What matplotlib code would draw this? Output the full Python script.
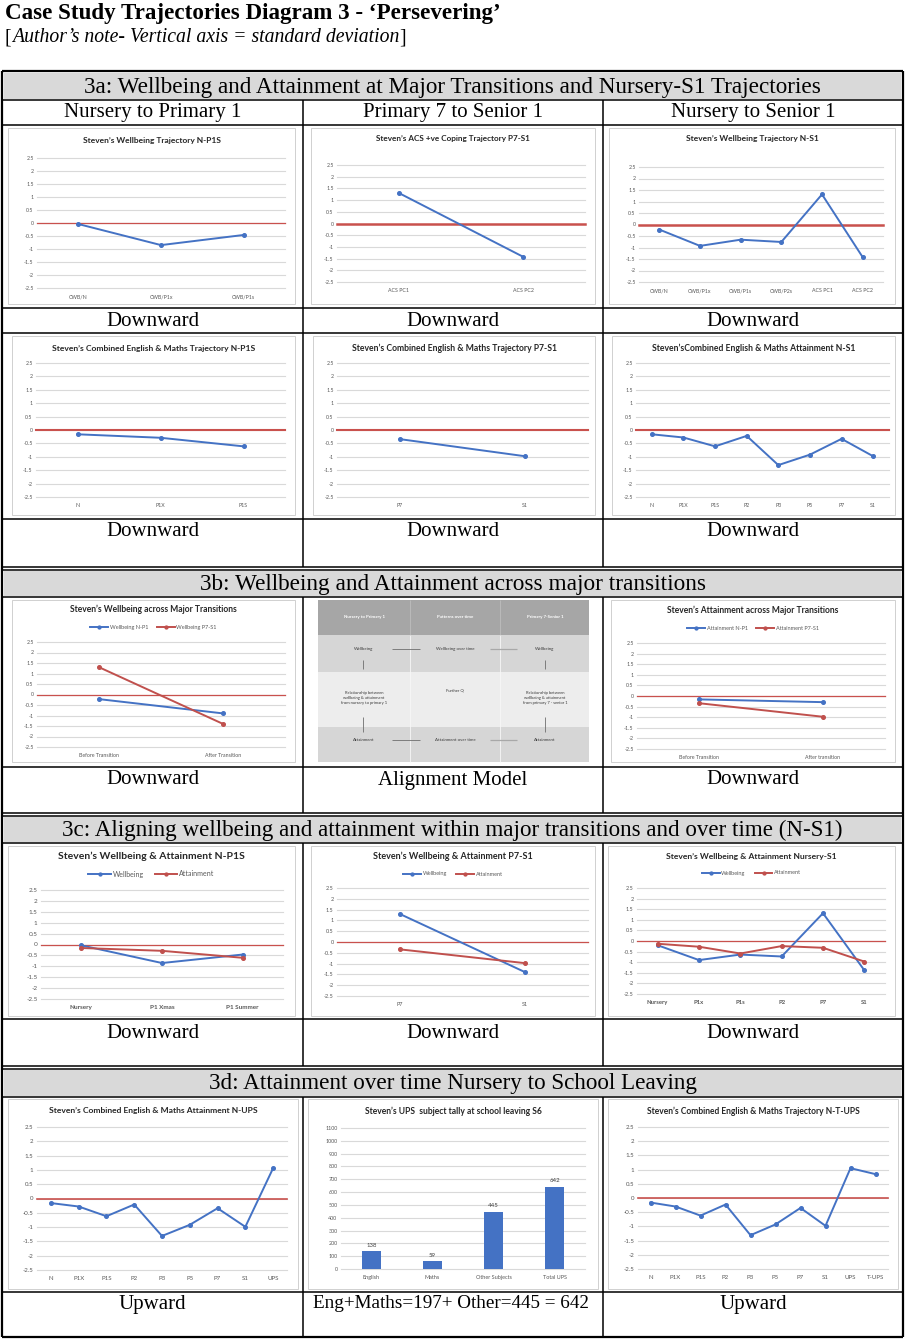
import matplotlib
matplotlib.use("Agg")
import matplotlib.pyplot as plt
from matplotlib.patches import Rectangle
from matplotlib.lines import Line2D

# ---------------- data ----------------
sd_ticks = [2.5, 2, 1.5, 1, 0.5, 0, -0.5, -1, -1.5, -2, -2.5]
sd_labels = ["2.5", "2", "1.5", "1", "0.5", "0", "-0.5", "-1", "-1.5", "-2", "-2.5"]

# 3a row 1
wb_np1s_cats = ["CWB/N", "CWB/P1x", "CWB/P1s"]
wb_np1s = [-0.04, -0.85, -0.46]
acs_cats = ["ACS PC1", "ACS PC2"]
acs_vals = [1.3, -1.42]
wb_ns1_cats = ["CWB/N", "CWB/P1x", "CWB/P1s", "CWB/P2s", "ACS PC1", "ACS PC2"]
wb_ns1 = [-0.22, -0.93, -0.66, -0.76, 1.31, -1.42]
# 3a row 2
att_np1s_cats = ["N", "P1X", "P1S"]
att_np1s = [-0.16, -0.29, -0.61]
att_p7s1_cats = ["P7", "S1"]
att_p7s1 = [-0.34, -0.98]
att_ns1_cats = ["N", "P1X", "P1S", "P2", "P3", "P5", "P7", "S1"]
att_ns1 = [-0.16, -0.28, -0.61, -0.22, -1.31, -0.92, -0.33, -0.98]
# 3b
trans_cats = ["Before Transition", "After Transition"]
trans_cats_b = ["Before Transition", "After transition"]
wb_trans_np1 = [-0.22, -0.9]
wb_trans_p7s1 = [1.3, -1.4]
att_trans_np1 = [-0.16, -0.29]
att_trans_p7s1 = [-0.34, -0.98]
# 3c
c_np1s_cats = ["Nursery", "P1 Xmas", "P1 Summer"]
c_np1s_wb = [-0.04, -0.85, -0.46]
c_np1s_att = [-0.16, -0.29, -0.61]
c_p7s1_cats = ["P7", "S1"]
c_p7s1_wb = [1.3, -1.4]
c_p7s1_att = [-0.34, -0.98]
c_ns1_cats = ["Nursery", "P1x", "P1s", "P2", "P7", "S1"]
c_ns1_wb = [-0.2, -0.9, -0.64, -0.73, 1.31, -1.38]
c_ns1_att = [-0.13, -0.27, -0.59, -0.24, -0.32, -0.97]
# 3d
nups_cats = ["N", "P1X", "P1S", "P2", "P3", "P5", "P7", "S1", "UPS"]
nups = [-0.16, -0.28, -0.62, -0.21, -1.31, -0.92, -0.34, -0.99, 1.06]
ups_cats = ["English", "Maths", "Other Subjects", "Total UPS"]
ups_vals = [138, 59, 445, 642]
ups_ticks = [0, 100, 200, 300, 400, 500, 600, 700, 800, 900, 1000, 1100]
ntups_cats = ["N", "P1X", "P1S", "P2", "P3", "P5", "P7", "S1", "UPS", "T-UPS"]
ntups = [-0.16, -0.3, -0.62, -0.23, -1.31, -0.93, -0.35, -0.98, 1.05, 0.84]

# alignment model text
am_cols = ["Nursery to Primary 1", "Patterns over time", "Primary 7-Senior 1"]
am_top = ["Wellbeing", "Wellbeing over time", "Wellbeing"]
am_mid = ["Relationship between\nwellbeing & attainment\nfrom nursery to primary 1",
          "Further Q",
          "Relationship between\nwellbeing & attainment\nfrom primary 7 - senior 1"]
am_bot = ["Attainment", "Attainment over time", "Attainment"]

# ---------------- setup ----------------
W, H = 905, 1339
fig = plt.figure(figsize=(W / 100, H / 100), dpi=100)
fig.patch.set_facecolor("white")
renderer = fig.canvas.get_renderer()

SERIF = ["Liberation Serif", "DejaVu Serif"]
SANS = ["Lato", "DejaVu Sans"]
BLUE = "#4472C4"
RED = "#C0504D"
ZERO = "#C9514D"
GRID = "#D9D9D9"
TICK = "#595959"
HDR = "#D9D9D9"


def fx(x):
    return x / W


def fy(y):
    return 1 - y / H


def add_rect(x0, y0, x1, y1, fc, ec="none", lw=0, z=0):
    fig.add_artist(Rectangle((fx(x0), fy(y1)), (x1 - x0) / W, (y1 - y0) / H,
                             transform=fig.transFigure, facecolor=fc,
                             edgecolor=ec, linewidth=lw, zorder=z))


def hline(y, x0, x1, lw=1.1, color="black", z=6):
    fig.add_artist(Line2D([fx(x0), fx(x1)], [fy(y), fy(y)], transform=fig.transFigure,
                          color=color, lw=lw, zorder=z, solid_capstyle="butt"))


def vline(x, y0, y1, lw=1.1, color="black", z=6):
    fig.add_artist(Line2D([fx(x), fx(x)], [fy(y0), fy(y1)], transform=fig.transFigure,
                          color=color, lw=lw, zorder=z, solid_capstyle="butt"))


def fit_text(x, y, s, width, **kw):
    t = fig.text(fx(x), fy(y), s, **kw)
    bb = t.get_window_extent(renderer=renderer)
    t.set_fontsize(t.get_fontsize() * width / bb.width)
    return t


def serif_text(x, y, s, size=15, **kw):
    return fig.text(fx(x), fy(y), s, ha="center", va="center", family=SERIF,
                    fontsize=size, color="black", zorder=7, **kw)


def line_panel(box, plot, title, title_y, title_w, cats, series, zero_lw=1.0,
               legend_y=None, tick_fs=3.8, cat_fs=3.8, legend_fs=4.0, title_x=None,
               cat_weight="normal"):
    bx0, by0, bx1, by1 = box
    add_rect(bx0, by0, bx1, by1, fc="white", ec="#D0D0D0", lw=0.7, z=1)
    tx = (bx0 + bx1) / 2 if title_x is None else title_x
    fit_text(tx, title_y, title, title_w, ha="center", va="center", family=SANS,
             fontweight="bold", color="#262626", fontsize=6, zorder=3)
    x0, y0, x1, y1 = plot
    ax = fig.add_axes([fx(x0), fy(y1), (x1 - x0) / W, (y1 - y0) / H], zorder=2)
    ax.patch.set_visible(False)
    n = len(cats)
    ax.set_xlim(-0.5, n - 0.5)
    ax.set_ylim(-2.5, 2.5)
    for v in sd_ticks:
        ax.axhline(v, color=GRID, lw=0.8, zorder=0, clip_on=False)
    ax.axhline(0, color=ZERO, lw=zero_lw, zorder=1, clip_on=False)
    for vals, color, label in series:
        ax.plot(range(n), vals, color=color, lw=1.4, marker="o", ms=2.6,
                label=label, zorder=3, clip_on=False)
    ax.set_yticks(sd_ticks)
    ax.set_yticklabels(sd_labels)
    ax.set_xticks(range(n))
    ax.set_xticklabels(cats)
    ax.tick_params(axis="y", length=0, pad=2.5, labelsize=tick_fs, labelcolor=TICK)
    ax.tick_params(axis="x", length=0, pad=4.5, labelsize=cat_fs, labelcolor=TICK)
    for lab in ax.get_yticklabels():
        lab.set_family(SANS)
    for lab in ax.get_xticklabels():
        lab.set_family(SANS)
        lab.set_fontweight(cat_weight)
    for s in ax.spines.values():
        s.set_visible(False)
    if legend_y is not None:
        ax.legend(loc="center", bbox_to_anchor=(fx((bx0 + bx1) / 2), fy(legend_y)),
                  bbox_transform=fig.transFigure, ncol=len(series), frameon=False,
                  prop={"family": SANS, "size": legend_fs}, labelcolor=TICK,
                  handlelength=3.2, handletextpad=0.3, columnspacing=1.6,
                  borderpad=0, markerscale=0.8)
    return ax


def bar_panel(box, plot, title, title_y, title_w, cats, vals):
    bx0, by0, bx1, by1 = box
    add_rect(bx0, by0, bx1, by1, fc="white", ec="#D0D0D0", lw=0.7, z=1)
    fit_text((bx0 + bx1) / 2, title_y, title, title_w, ha="center", va="center",
             family=SANS, fontweight="bold", color="#262626", fontsize=6, zorder=3)
    x0, y0, x1, y1 = plot
    ax = fig.add_axes([fx(x0), fy(y1), (x1 - x0) / W, (y1 - y0) / H], zorder=2)
    ax.patch.set_visible(False)
    n = len(cats)
    ax.set_xlim(-0.5, n - 0.5)
    ax.set_ylim(0, 1100)
    for v in ups_ticks:
        ax.axhline(v, color=GRID, lw=0.8, zorder=0, clip_on=False)
    bars = ax.bar(range(n), vals, width=0.32, color=BLUE, zorder=2)
    for b, v in zip(bars, vals):
        ax.annotate(str(v), (b.get_x() + b.get_width() / 2, v), xytext=(0, 2.5),
                    textcoords="offset points", ha="center", va="bottom",
                    fontsize=4.3, color="#404040", family=SANS)
    ax.set_yticks(ups_ticks)
    ax.set_yticklabels([str(v) for v in ups_ticks])
    ax.set_xticks(range(n))
    ax.set_xticklabels(cats)
    ax.tick_params(axis="y", length=0, pad=2.5, labelsize=3.9, labelcolor=TICK)
    ax.tick_params(axis="x", length=0, pad=4.5, labelsize=4.0, labelcolor=TICK)
    for lab in ax.get_xticklabels() + ax.get_yticklabels():
        lab.set_family(SANS)
    for s in ax.spines.values():
        s.set_visible(False)
    return ax


def alignment_model(x0, y0, x1, y1):
    xs = [364, 455, 545]
    bands = [(600, 635, "#A6A6A6"), (635, 672, "#D6D6D6"),
             (672, 727, "#EDEDED"), (727, 762, "#D6D6D6")]
    for ya, yb, c in bands:
        add_rect(x0, ya, x1, yb, fc=c, z=1)
    for xv in (410, 500):
        vline(xv, 600, 635, lw=0.6, color="#BDBDBD", z=2)
        vline(xv, 635, 762, lw=0.6, color="#F7F7F7", z=2)
    kw = dict(ha="center", va="center", family=SANS, zorder=3)
    for xc, s in zip(xs, am_cols):
        fig.text(fx(xc), fy(617), s, fontsize=3.2, color="white", fontweight="bold", **kw)
    for xc, s in zip(xs, am_top):
        fig.text(fx(xc), fy(649), s, fontsize=3.2, color="#3A3A3A", **kw)
    for xc, s, yy in zip(xs, am_mid, [698, 690, 698]):
        fig.text(fx(xc), fy(yy), s, fontsize=3.0, color="#3A3A3A", linespacing=1.4, **kw)
    for xc, s in zip(xs, am_bot):
        fig.text(fx(xc), fy(740), s, fontsize=3.2, color="#3A3A3A", **kw)
    for yy in (649, 740):
        hline(yy, 392, 420, lw=0.6, color="#6E6E6E", z=3)
        hline(yy, 490, 517, lw=0.9, color="#A8A8A8", z=3)
    for xc in (363, 545):
        vline(xc, 660, 669, lw=0.6, color="#6E6E6E", z=3)
        vline(xc, 717, 732, lw=0.6, color="#6E6E6E", z=3)


# ---------------- heading ----------------
fit_text(5, 13, "Case Study Trajectories Diagram 3 - \u2018Persevering\u2019", 495,
         ha="left", va="center", family=SERIF, fontweight="bold", fontsize=14)
xcur = 5
parts = [("[", "normal"), ("Author\u2019s note- Vertical axis = standard deviation", "italic"),
         ("]", "normal")]
for s, st in parts:
    t = fig.text(fx(xcur), fy(38), s, ha="left", va="center", family=SERIF,
                 fontstyle=st, fontsize=14.2)
    xcur += t.get_window_extent(renderer=renderer).width

# ---------------- table frame ----------------
sections = [
    (72, 100, "3a: Wellbeing and Attainment at Major Transitions and Nursery-S1 Trajectories", 741),
    (570, 597, "3b: Wellbeing and Attainment across major transitions", 508),
    (816, 843, "3c: Aligning wellbeing and attainment within major transitions and over time (N-S1)", 783),
    (1069, 1097, "3d: Attainment over time Nursery to School Leaving", 490),
]
for ya, yb, s, wpx in sections:
    add_rect(4, ya + 1, 901, yb - 1, fc=HDR, z=0)
    fit_text(452.5, (ya + yb) / 2 + 1, s, wpx, ha="center", va="center",
             family=SERIF, fontsize=15, zorder=7)

for y in [100, 125, 308, 333, 519, 597, 767, 843, 1019, 1097, 1292]:
    hline(y, 2, 903)
for y in [567, 570, 813, 816, 1066, 1069]:
    hline(y, 2, 903, lw=1.1)
hline(71, 2, 903, lw=1.6)
hline(1337, 2, 903, lw=1.6)
vline(2, 71, 1337, lw=1.6)
vline(903, 71, 1337, lw=1.6)
for ya, yb in [(100, 567), (597, 813), (843, 1066), (1097, 1337)]:
    vline(303, ya, yb)
    vline(603, ya, yb)

colx = [152.5, 453, 753]
for xc, s in zip(colx, ["Nursery to Primary 1", "Primary 7 to Senior 1", "Nursery to Senior 1"]):
    serif_text(xc, 113, s)

labels_rows = [
    (321, ["Downward", "Downward", "Downward"]),
    (532, ["Downward", "Downward", "Downward"]),
    (780, ["Downward", "Alignment Model", "Downward"]),
    (1033, ["Downward", "Downward", "Downward"]),
    (1304, ["Upward", None, "Upward"]),
]
for yy, labs in labels_rows:
    for xc, s in zip(colx, labs):
        if s is not None:
            serif_text(xc, yy, s)
fit_text(451, 1304, "Eng+Maths=197+ Other=445 = 642", 278, ha="center", va="center",
         family=SERIF, fontsize=15, zorder=7)

# ---------------- 3a row 1 ----------------
line_panel((8, 128, 295, 304), (37, 158, 285, 288), "Steven\u2019s Wellbeing Trajectory N-P1S",
           140, 138, wb_np1s_cats, [(wb_np1s, BLUE, "Wellbeing")], zero_lw=0.9)
line_panel((311, 128, 595, 304), (337, 165, 585, 282), "Steven\u2019s ACS +ve Coping Trajectory P7-S1",
           139, 155, acs_cats, [(acs_vals, BLUE, "ACS")], zero_lw=1.8)
line_panel((609, 128, 895, 304), (639, 167, 883, 282), "Steven\u2019s Wellbeing Trajectory N-S1",
           139, 133, wb_ns1_cats, [(wb_ns1, BLUE, "Wellbeing")], zero_lw=1.8)

# ---------------- 3a row 2 ----------------
line_panel((12, 336, 295, 515), (36, 363, 285, 497),
           "Steven\u2019s Combined English & Maths Trajectory N-P1S", 348, 204,
           att_np1s_cats, [(att_np1s, BLUE, "Attainment")], zero_lw=1.5)
line_panel((313, 336, 595, 515), (337, 363, 588, 497),
           "Steven\u2019s Combined English & Maths Trajectory P7-S1", 348, 205,
           att_p7s1_cats, [(att_p7s1, BLUE, "Attainment")], zero_lw=1.5)
line_panel((612, 336, 895, 515), (636, 363, 889, 497),
           "Steven\u2019sCombined English & Maths Attainment N-S1", 348, 205,
           att_ns1_cats, [(att_ns1, BLUE, "Attainment")], zero_lw=1.5)

# ---------------- 3b ----------------
line_panel((12, 600, 295, 762), (37, 642, 285, 747),
           "Steven\u2019s Wellbeing across Major Transitions", 609, 168, trans_cats,
           [(wb_trans_np1, BLUE, "Wellbeing N-P1"), (wb_trans_p7s1, RED, "Wellbeing P7-S1")],
           zero_lw=0.9, legend_y=627)
alignment_model(318, 600, 589, 762)
line_panel((611, 600, 895, 762), (637, 643, 885, 749),
           "Steven\u2019s Attainment across Major Transitions", 610, 173, trans_cats_b,
           [(att_trans_np1, BLUE, "Attainment N-P1"), (att_trans_p7s1, RED, "Attainment P7-S1")],
           zero_lw=0.9, legend_y=628)

# ---------------- 3c ----------------
line_panel((8, 846, 295, 1016), (41, 890, 283, 999),
           "Steven\u2019s Wellbeing & Attainment N-P1S", 856, 187, c_np1s_cats,
           [(c_np1s_wb, BLUE, "Wellbeing"), (c_np1s_att, RED, "Attainment")],
           zero_lw=0.9, legend_y=874, tick_fs=4.6, cat_fs=4.6, legend_fs=5.0,
           cat_weight="bold")
line_panel((311, 846, 595, 1016), (337, 888, 588, 996),
           "Steven\u2019s Wellbeing & Attainment P7-S1", 856, 160, c_p7s1_cats,
           [(c_p7s1_wb, BLUE, "Wellbeing"), (c_p7s1_att, RED, "Attainment")],
           zero_lw=0.9, legend_y=874, tick_fs=4.0, cat_fs=4.0, legend_fs=4.0)
line_panel((608, 846, 895, 1016), (637, 888, 885, 994),
           "Steven\u2019s Wellbeing & Attainment Nursery-S1", 856, 172, c_ns1_cats,
           [(c_ns1_wb, BLUE, "Wellbeing"), (c_ns1_att, RED, "Attainment")],
           zero_lw=0.9, legend_y=873, tick_fs=4.0, cat_fs=4.2, legend_fs=4.0,
           cat_weight="bold")

# ---------------- 3d ----------------
line_panel((8, 1099, 298, 1289), (37, 1127, 287, 1270),
           "Steven\u2019s Combined English & Maths Attainment N-UPS", 1110, 210, nups_cats,
           [(nups, BLUE, "Attainment")], zero_lw=1.2, tick_fs=4.4, cat_fs=4.4)
bar_panel((308, 1099, 598, 1289), (341, 1128, 585, 1269),
          "Steven\u2019s UPS  subject tally at school leaving S6", 1111, 178, ups_cats, ups_vals)
line_panel((608, 1099, 898, 1289), (638, 1127, 888, 1269),
           "Steven\u2019s Combined English & Maths Trajectory N-T-UPS", 1111, 215, ntups_cats,
           [(ntups, BLUE, "Attainment")], zero_lw=1.2, tick_fs=4.4, cat_fs=4.4)

fig.savefig("out.png", dpi=100)
